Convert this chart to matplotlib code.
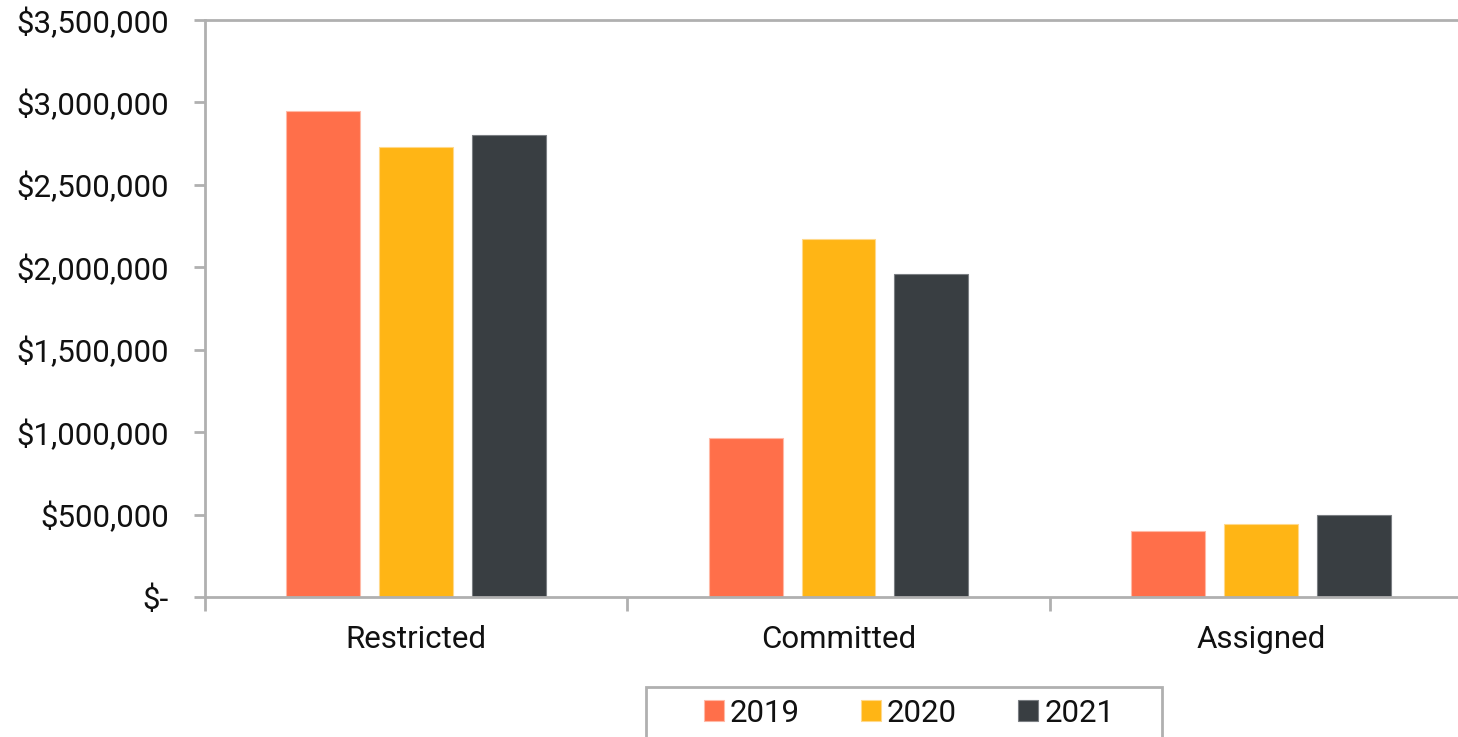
import matplotlib
matplotlib.use("Agg")
import matplotlib.pyplot as plt
from matplotlib.patches import Rectangle
from matplotlib.ticker import FuncFormatter, FixedLocator
import numpy as np

categories = ["Restricted", "Committed", "Assigned"]
years = ["2019", "2020", "2021"]
v2019 = [2945000, 963000, 398000]
v2020 = [2732000, 2170000, 443000]
v2021 = [2803000, 1959000, 497000]
colors = ["#FF6F4A", "#FFB515", "#393E42"]
edge_colors = ["#FFB9A6", "#FFD98A", "#7A7E82"]

plt.rcParams['font.family'] = ['Roboto', 'DejaVu Sans']
FS = 22.5

W, H = 1458, 737
fig = plt.figure(figsize=(W / 100, H / 100), dpi=100)
left, right, bottom, top = 205, 1472, 597, 20
ax = fig.add_axes([left / W, (H - bottom) / H, (right - left) / W, (bottom - top) / H])

x = np.arange(len(categories))
width = 0.175
offset = 0.22
series = [v2019, v2020, v2021]
for i, (vals, c, ec) in enumerate(zip(series, colors, edge_colors)):
    ax.bar(x + (i - 1) * offset, vals, width, color=c, edgecolor=ec, linewidth=0.8,
           label=years[i], zorder=2)

ax.set_xlim(-0.5, 2.5)
ax.set_ylim(0, 3500000)
ax.yaxis.set_major_locator(FixedLocator(np.arange(0, 3500001, 500000)))

def fmt(v, pos):
    if v == 0:
        return "$-"
    return "${:,.0f}".format(v)
ax.yaxis.set_major_formatter(FuncFormatter(fmt))

ax.set_xticks(x)
ax.set_xticklabels(categories)
ax.set_xticks([-0.5, 0.5, 1.5, 2.5], minor=True)
ax.tick_params(axis='x', which='major', length=0, pad=20, labelsize=FS, labelcolor="#111111")
ax.tick_params(axis='x', which='minor', length=10, width=2, color="#B0B0B0")
ax.tick_params(axis='y', which='major', length=8, width=2, color="#B0B0B0", pad=18,
               labelsize=FS, labelcolor="#111111")

for side in ["left", "bottom", "top", "right"]:
    ax.spines[side].set_color("#B0B0B0")
    ax.spines[side].set_linewidth(2)

# legend
handles, labels = ax.get_legend_handles_labels()
leg = fig.legend(handles, labels, loc="center", bbox_to_anchor=(909 / W, (H - 713) / H),
                 ncol=3, frameon=False, fontsize=FS, handlelength=0.64, handleheight=0.64,
                 handletextpad=0.2, columnspacing=1.95)
for t in leg.get_texts():
    t.set_color("#111111")
fig.patches.append(Rectangle((646 / W, -0.05), (1162 - 646) / W, (H - 687) / H + 0.05,
                             transform=fig.transFigure, fill=False, edgecolor="#B0B0B0",
                             linewidth=2, zorder=5))

fig.savefig("out.png", dpi=100)
